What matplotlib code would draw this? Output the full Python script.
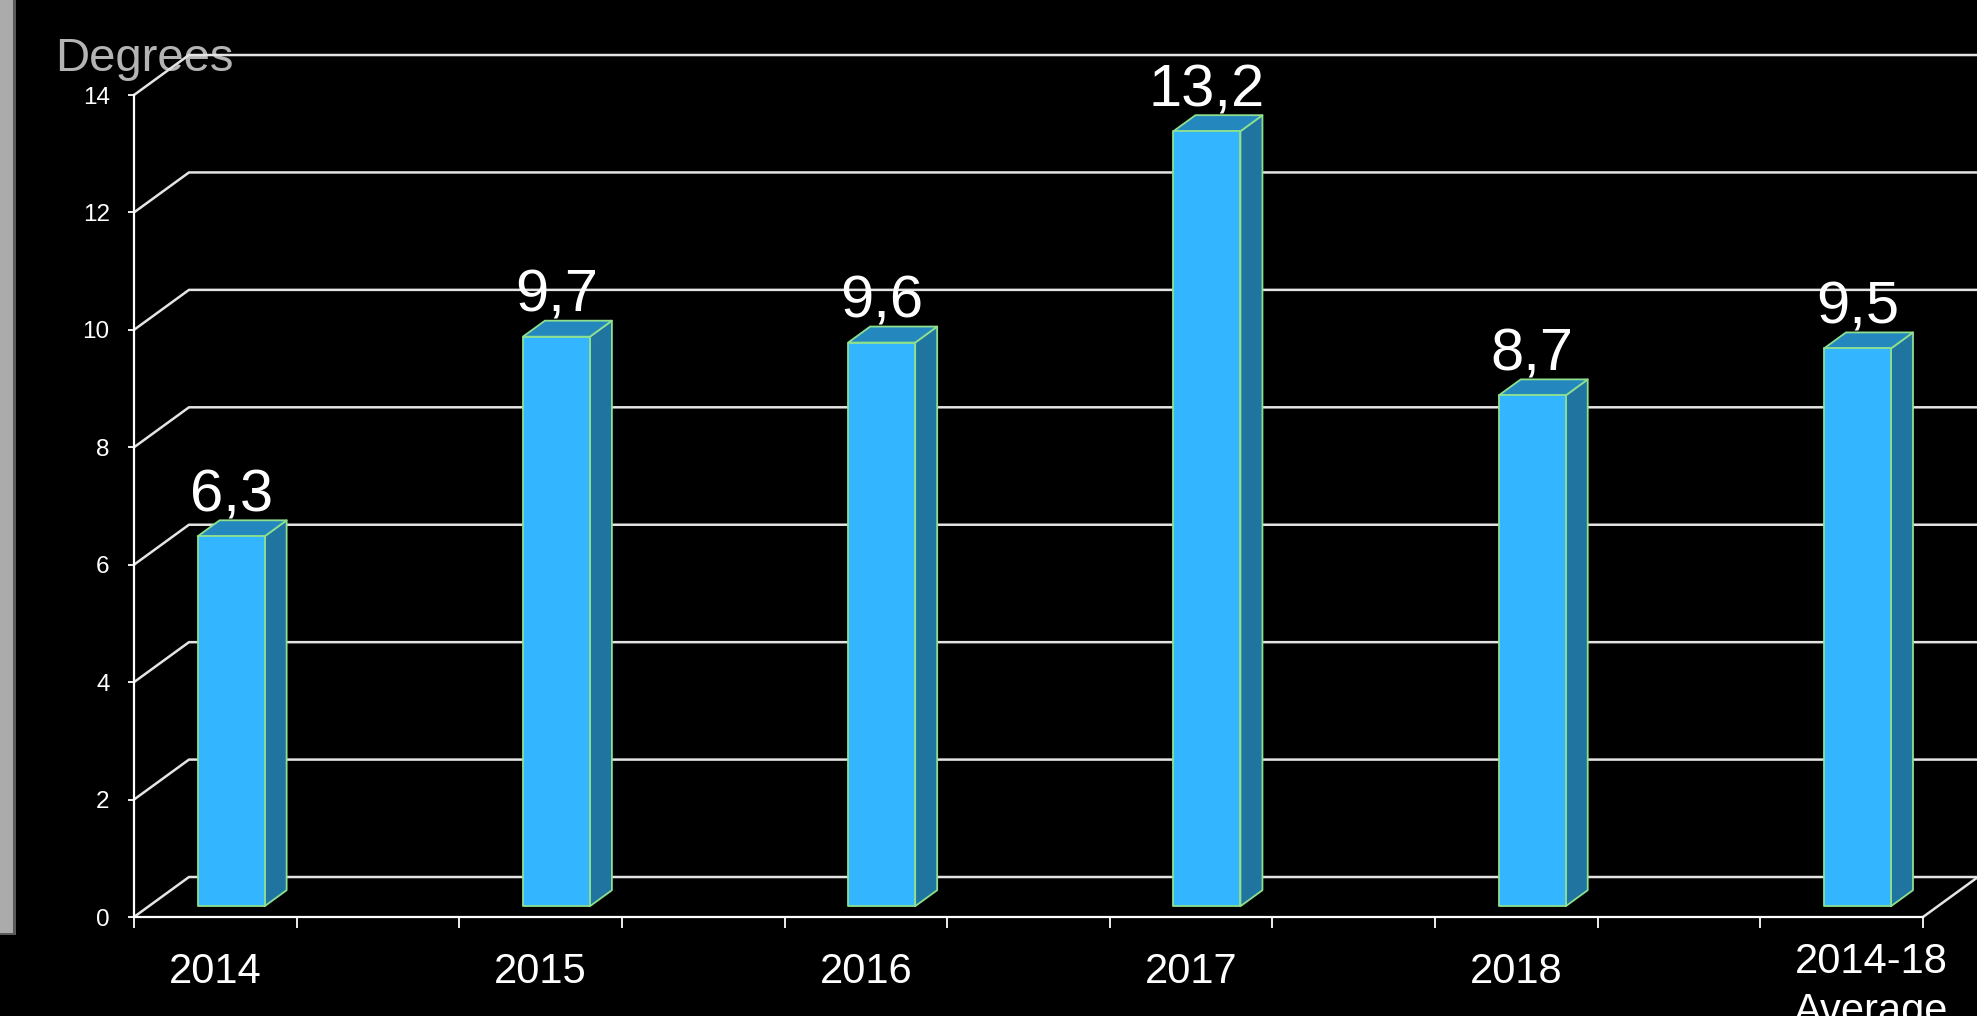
import numpy as np
import matplotlib
matplotlib.use("Agg")
import matplotlib.pyplot as plt
from matplotlib.patches import Polygon, Rectangle
from matplotlib.lines import Line2D
import matplotlib.transforms as mtransforms

plt.rcParams["font.family"] = ["Liberation Sans", "DejaVu Sans"]

# data
categories = ["2014", "2015", "2016", "2017", "2018", "2014-18\nAverage"]
values = [6.3, 9.7, 9.6, 13.2, 8.7, 9.5]
value_labels = ["6,3", "9,7", "9,6", "13,2", "8,7", "9,5"]
y_ticks = [0, 2, 4, 6, 8, 10, 12, 14]
y_label = "Degrees"

# pseudo-3D geometry (data units)
DX, DY = 0.169, 0.681      # full floor depth
D0, D1 = 0.27, 0.67        # bar front / back depth fraction
BAR_W = 0.206
BAR_OFF = 0.15
XMAX = 5.5

FRONT = "#33B6FF"
SIDE = "#1F74A0"
TOP = "#2488BE"
EDGE = "#8EE08E"
GRID = "#e4e4e4"


def proj(x, v, d):
    return (x + d * DX, v + d * DY)


fig = plt.figure(figsize=(19.77, 10.16), dpi=100, facecolor="black")
ax = fig.add_axes([134 / 1977, 99 / 1016, 1789 / 1977, 822 / 1016])
ax.set_facecolor("none")
ax.set_xlim(0, XMAX)
ax.set_ylim(0, 14)

# back wall gridlines with their diagonal lead-ins
for v in y_ticks:
    xs = [0, DX, XMAX + DX]
    ys = [v, v + DY, v + DY]
    ax.add_line(Line2D(xs, ys, color=GRID, lw=1.8, zorder=2, clip_on=False))
# right edge of the floor
ax.add_line(Line2D([XMAX, XMAX + DX], [0, DY], color=GRID, lw=1.8, zorder=2, clip_on=False))

# bars
for i, v in enumerate(values):
    xl = i + BAR_OFF
    xr = xl + BAR_W
    front = [proj(xl, 0, D0), proj(xr, 0, D0), proj(xr, v, D0), proj(xl, v, D0)]
    side = [proj(xr, 0, D0), proj(xr, 0, D1), proj(xr, v, D1), proj(xr, v, D0)]
    top = [proj(xl, v, D0), proj(xr, v, D0), proj(xr, v, D1), proj(xl, v, D1)]
    for pts, col in [(side, SIDE), (top, TOP), (front, FRONT)]:
        ax.add_patch(Polygon(pts, closed=True, facecolor=col, edgecolor=EDGE,
                             lw=1.3, joinstyle="round", zorder=4, clip_on=False))
    cx = (xl + xr) / 2 + D0 * DX
    ax.annotate(value_labels[i], (cx, v + D1 * DY), xytext=(0, 6.5),
                textcoords="offset points", ha="center", va="baseline",
                color="white", fontsize=43, zorder=5, annotation_clip=False)

# front axes
for side_name in ["top", "right"]:
    ax.spines[side_name].set_visible(False)
for side_name in ["left", "bottom"]:
    ax.spines[side_name].set_color("white")
    ax.spines[side_name].set_linewidth(1.6)
    ax.spines[side_name].set_zorder(3)

ax.set_yticks(y_ticks)
ax.tick_params(axis="y", colors="white", direction="out", length=4.5, width=1.3,
               labelsize=17.5, pad=13)
ax.set_xticks(np.arange(0, XMAX + 0.01, 0.5))
ax.set_xticklabels([])
ax.tick_params(axis="x", colors="white", direction="out", length=8, width=1.3)

# category labels under the floor
label_x = [i + 0.25 for i in range(len(categories))]
label_x[-1] += 0.09
tr = mtransforms.blended_transform_factory(ax.transData, fig.transFigure)
for i, lab in enumerate(categories):
    lines = lab.split("\n")
    base = 33 if len(lines) == 1 else 43
    for j, ln in enumerate(lines):
        ax.text(label_x[i], (base - 50 * j) / 1016, ln, transform=tr,
                ha="center", va="baseline", color="white", fontsize=30,
                clip_on=False)

# axis title, sits under the top gridline
ax.text(55 / 1977, 1 - 71 / 1016, y_label, transform=fig.transFigure,
        ha="left", va="baseline", color="#b4b4b4", fontsize=34, zorder=1)

# grey frame strip on the left edge
fig.patches.append(Rectangle((0, 1 - 933 / 1016), 13 / 1977, 933 / 1016,
                             transform=fig.transFigure, facecolor="#ababab",
                             edgecolor="none", zorder=0))
fig.patches.append(Rectangle((13 / 1977, 1 - 933 / 1016), 3 / 1977, 933 / 1016,
                             transform=fig.transFigure, facecolor="#5a5a5a",
                             edgecolor="none", zorder=0))
fig.patches.append(Rectangle((0, 1 - 935 / 1016), 16 / 1977, 2 / 1016,
                             transform=fig.transFigure, facecolor="#5a5a5a",
                             edgecolor="none", zorder=0))

fig.savefig("out.png", dpi=100, facecolor="black")
